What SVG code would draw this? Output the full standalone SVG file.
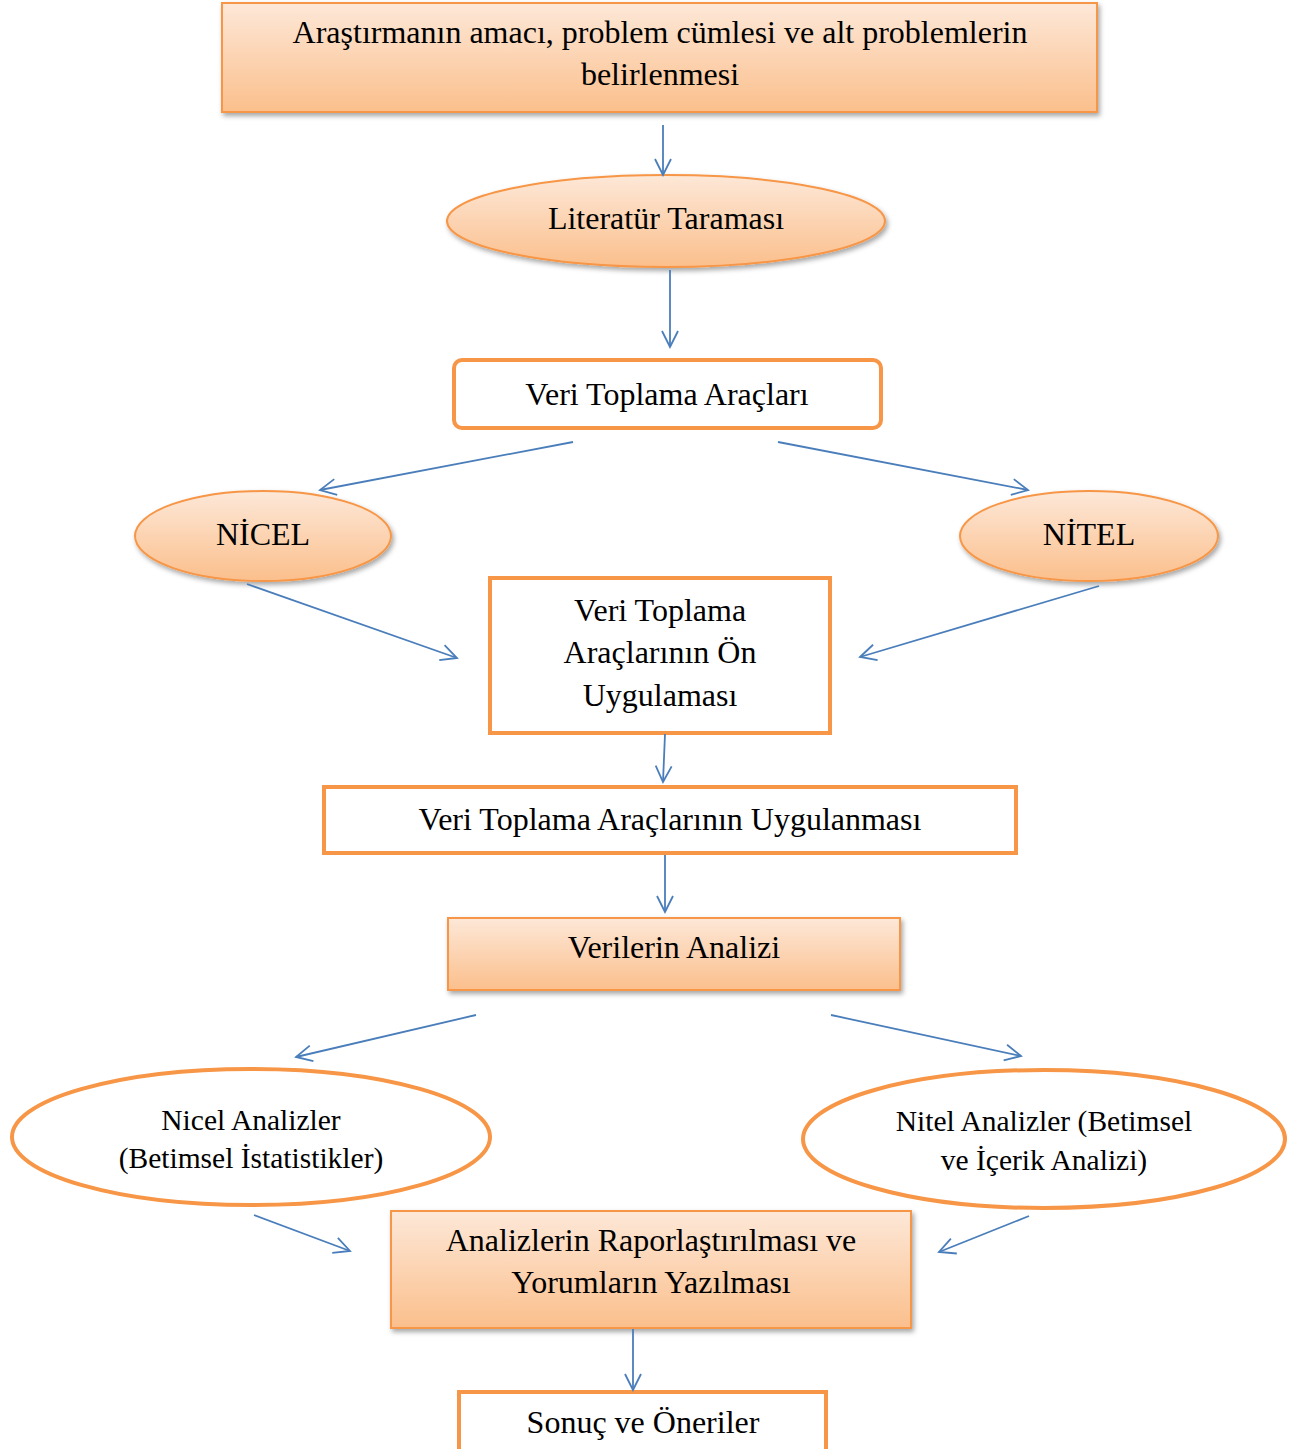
<svg xmlns="http://www.w3.org/2000/svg" width="1301" height="1449" viewBox="0 0 1301 1449">
<defs>
<linearGradient id="peach" x1="0" y1="0" x2="0" y2="1">
<stop offset="0" stop-color="#fde8d8"/>
<stop offset="1" stop-color="#fbbf8c"/>
</linearGradient>
<filter id="sh" x="-10%" y="-10%" width="120%" height="130%">
<feDropShadow dx="2" dy="3" stdDeviation="2.5" flood-color="#000" flood-opacity="0.35"/>
</filter>
<marker id="ah" viewBox="0 0 20 20" refX="18" refY="10" markerWidth="20" markerHeight="20" markerUnits="userSpaceOnUse" orient="auto">
<polyline points="2,2 18,10 2,18" fill="none" stroke="#4a7ebb" stroke-width="1.8"/>
</marker>
<style>
.g{fill:url(#peach);stroke:#f79646;stroke-width:2;filter:url(#sh)}
.w{fill:#fff;stroke:#f79646;stroke-width:4}
text{font-family:"Liberation Serif","Times New Roman",serif;font-size:32px;fill:#000;text-anchor:middle}
.s{font-size:29.5px}
.c line{stroke:#4a7ebb;stroke-width:1.8;marker-end:url(#ah)}
</style>
</defs>
<rect width="1301" height="1449" fill="#fff"/>
<g id="n1"><rect class="g" x="222" y="3" width="875" height="109"/>
<text x="660" y="43">Araştırmanın amacı, problem cümlesi ve alt problemlerin</text>
<text x="660" y="85">belirlenmesi</text></g>
<g id="n2"><ellipse class="g" cx="666" cy="221" rx="219" ry="46"/>
<text x="666" y="229">Literatür Taraması</text></g>
<g id="n3"><rect class="w" x="454" y="360" width="427" height="68" rx="8"/>
<text x="667" y="405">Veri Toplama Araçları</text></g>
<g id="n4"><ellipse class="g" cx="263" cy="536" rx="128" ry="45"/>
<text x="263" y="545">NİCEL</text></g>
<g id="n5"><ellipse class="g" cx="1089" cy="536" rx="129" ry="45"/>
<text x="1089" y="545">NİTEL</text></g>
<g id="n6"><rect class="w" x="490" y="578" width="340" height="155"/>
<text x="660" y="621">Veri Toplama</text>
<text x="660" y="663">Araçlarının Ön</text>
<text x="660" y="706">Uygulaması</text></g>
<g id="n7"><rect class="w" x="324" y="787" width="692" height="66"/>
<text x="670" y="830">Veri Toplama Araçlarının Uygulanması</text></g>
<g id="n8"><rect class="g" x="448" y="918" width="452" height="72"/>
<text x="674" y="958">Verilerin Analizi</text></g>
<g id="n9"><ellipse class="w" cx="251" cy="1137" rx="239" ry="68"/>
<text class="s" x="251" y="1130">Nicel Analizler</text>
<text class="s" x="251" y="1168">(Betimsel İstatistikler)</text></g>
<g id="n10"><ellipse class="w" cx="1044" cy="1139" rx="241" ry="69"/>
<text class="s" x="1044" y="1131">Nitel Analizler (Betimsel</text>
<text class="s" x="1044" y="1170">ve İçerik Analizi)</text></g>
<g id="n11"><rect class="g" x="391" y="1211" width="520" height="117"/>
<text x="651" y="1251">Analizlerin Raporlaştırılması ve</text>
<text x="651" y="1293">Yorumların Yazılması</text></g>
<g id="n12"><rect class="w" x="459" y="1392" width="367" height="70"/>
<text x="643" y="1433">Sonuç ve Öneriler</text></g>
<g id="connectors" class="c">
<line x1="663" y1="125" x2="663" y2="175"/>
<line x1="670" y1="270" x2="670" y2="347"/>
<line x1="573" y1="442" x2="320" y2="490"/>
<line x1="778" y1="442" x2="1028" y2="490"/>
<line x1="247" y1="584" x2="457" y2="658"/>
<line x1="1099" y1="586" x2="860" y2="657"/>
<line x1="665" y1="734" x2="663" y2="782"/>
<line x1="665" y1="855" x2="665" y2="912"/>
<line x1="476" y1="1015" x2="296" y2="1057"/>
<line x1="831" y1="1015" x2="1021" y2="1056"/>
<line x1="254" y1="1215" x2="350" y2="1251"/>
<line x1="1029" y1="1216" x2="939" y2="1252"/>
<line x1="633" y1="1329" x2="633" y2="1390"/>
</g>
</svg>
